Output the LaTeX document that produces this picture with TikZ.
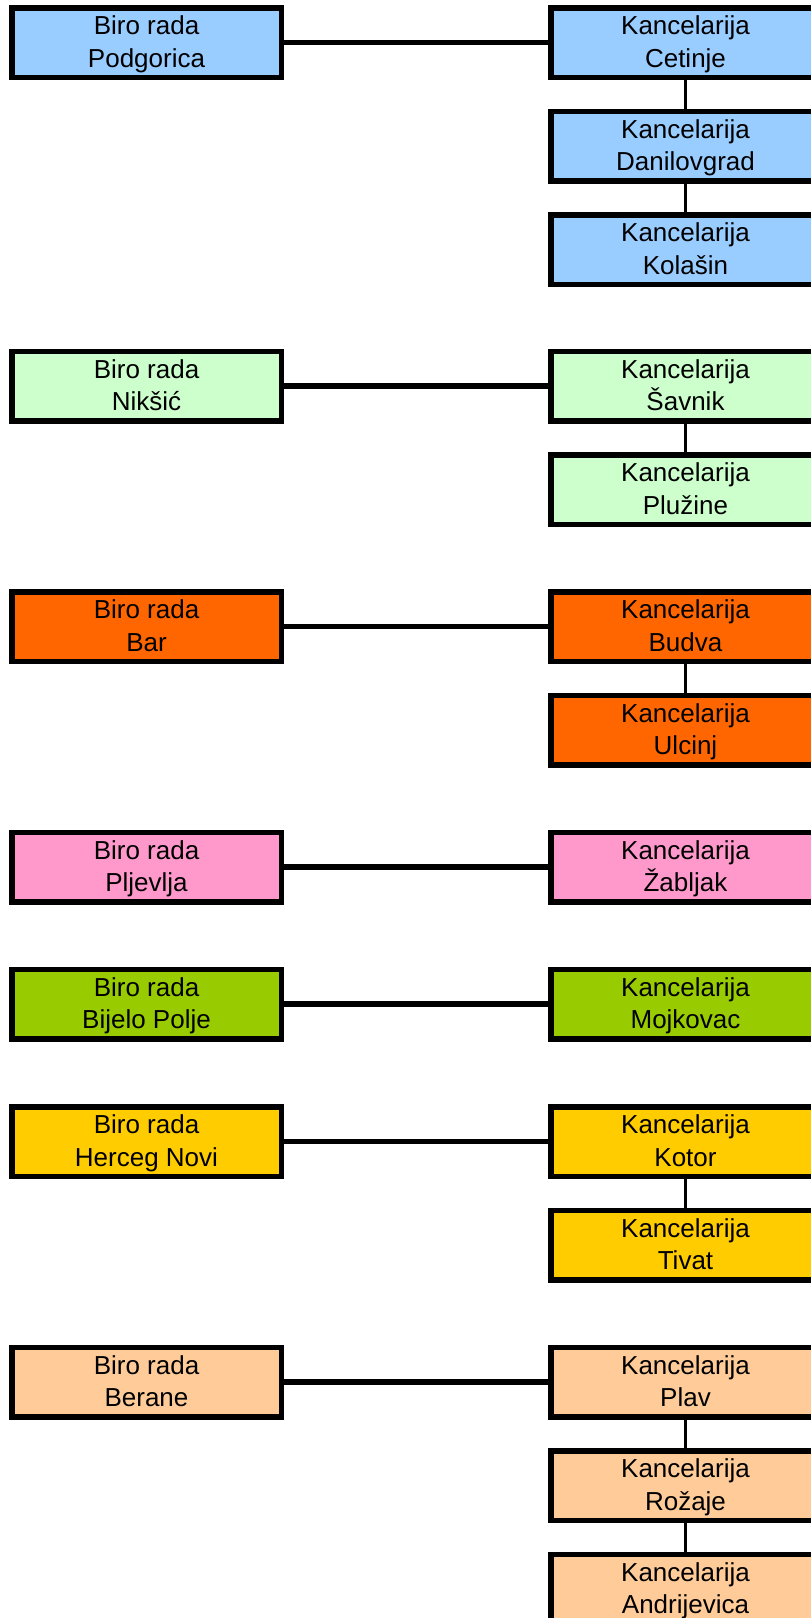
\documentclass[tikz,border=0pt]{standalone}
\usepackage{fontspec}
\setmainfont{Liberation Sans}
\usepackage{color}
\definecolor{skyblue}{HTML}{99CCFF}
\definecolor{mintgreen}{HTML}{CCFFCC}
\definecolor{deeporange}{HTML}{FF6600}
\definecolor{rosepink}{HTML}{FF99CC}
\definecolor{limegreen}{HTML}{99CC00}
\definecolor{goldyellow}{HTML}{FFCC00}
\definecolor{peach}{HTML}{FFCC99}
\newcommand{\officestrut}{\rule[-7.8pt]{0pt}{32.7pt}}
\newcommand{\twolines}[2]{\officestrut #1\\\officestrut #2}
\tikzset{
	office/.style={draw=black, line width=5.5pt, inner sep=0pt,
		minimum width=269.5pt, minimum height=69.5pt, align=center,
		font=\fontsize{26}{32.7}\selectfont},
	mainlink/.style={line width=5.5pt},
	stacklink/.style={line width=2.7pt}
}

\begin{document}
\begin{tikzpicture}[x=1pt, y=-1pt]
				\useasboundingbox (0,0) rectangle (811,1618);
				\clip (0,0) rectangle (811,1618);

				% Podgorica
				\node[office, fill=skyblue] (podgorica) at (146.5,42.5) {\twolines{Biro rada}{Podgorica}};
				\node[office, fill=skyblue] (cetinje) at (685.5,42.5) {\twolines{Kancelarija}{Cetinje}};
				\node[office, fill=skyblue] (danilovgrad) at (685.5,146) {\twolines{Kancelarija}{Danilovgrad}};
				\node[office, fill=skyblue] (kolasin) at (685.5,249.5) {\twolines{Kancelarija}{Kolašin}};
				\draw[mainlink] (podgorica) -- (cetinje);
				\draw[stacklink] (cetinje) -- (danilovgrad);
				\draw[stacklink] (danilovgrad) -- (kolasin);

				% Niksic
				\node[office, fill=mintgreen] (niksic) at (146.5,386) {\twolines{Biro rada}{Nikšić}};
				\node[office, fill=mintgreen] (savnik) at (685.5,386) {\twolines{Kancelarija}{Šavnik}};
				\node[office, fill=mintgreen] (pluzine) at (685.5,489.5) {\twolines{Kancelarija}{Plužine}};
				\draw[mainlink] (niksic) -- (savnik);
				\draw[stacklink] (savnik) -- (pluzine);

				% Bar
				\node[office, fill=deeporange] (bar) at (146.5,626.5) {\twolines{Biro rada}{Bar}};
				\node[office, fill=deeporange] (budva) at (685.5,626.5) {\twolines{Kancelarija}{Budva}};
				\node[office, fill=deeporange] (ulcinj) at (685.5,730) {\twolines{Kancelarija}{Ulcinj}};
				\draw[mainlink] (bar) -- (budva);
				\draw[stacklink] (budva) -- (ulcinj);

				% Pljevlja
				\node[office, fill=rosepink] (pljevlja) at (146.5,867) {\twolines{Biro rada}{Pljevlja}};
				\node[office, fill=rosepink] (zabljak) at (685.5,867) {\twolines{Kancelarija}{Žabljak}};
				\draw[mainlink] (pljevlja) -- (zabljak);

				% Bijelo Polje
				\node[office, fill=limegreen] (bijelopolje) at (146.5,1004) {\twolines{Biro rada}{Bijelo Polje}};
				\node[office, fill=limegreen] (mojkovac) at (685.5,1004) {\twolines{Kancelarija}{Mojkovac}};
				\draw[mainlink] (bijelopolje) -- (mojkovac);

				% Herceg Novi
				\node[office, fill=goldyellow] (hercegnovi) at (146.5,1141.5) {\twolines{Biro rada}{Herceg Novi}};
				\node[office, fill=goldyellow] (kotor) at (685.5,1141.5) {\twolines{Kancelarija}{Kotor}};
				\node[office, fill=goldyellow] (tivat) at (685.5,1245) {\twolines{Kancelarija}{Tivat}};
				\draw[mainlink] (hercegnovi) -- (kotor);
				\draw[stacklink] (kotor) -- (tivat);

				% Berane
				\node[office, fill=peach] (berane) at (146.5,1382) {\twolines{Biro rada}{Berane}};
				\node[office, fill=peach] (plav) at (685.5,1382) {\twolines{Kancelarija}{Plav}};
				\node[office, fill=peach] (rozaje) at (685.5,1485.5) {\twolines{Kancelarija}{Rožaje}};
				\node[office, fill=peach] (andrijevica) at (685.5,1589) {\twolines{Kancelarija}{Andrijevica}};
				\draw[mainlink] (berane) -- (plav);
				\draw[stacklink] (plav) -- (rozaje);
				\draw[stacklink] (rozaje) -- (andrijevica);

\end{tikzpicture}
\end{document}
